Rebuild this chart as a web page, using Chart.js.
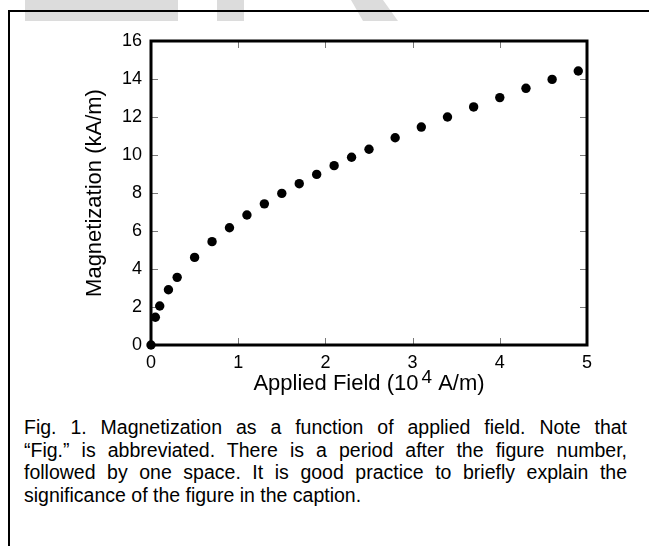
<!DOCTYPE html>
<html><head><meta charset="utf-8">
<script src="https://cdn.jsdelivr.net/npm/chart.js"></script>
<style>
html,body{margin:0;padding:0;background:#fff;width:649px;height:546px;overflow:hidden;position:relative;font-family:"Liberation Sans",Arial,sans-serif;}
.wm{position:absolute;background:#dcdcdc;top:0;height:21px;}
#frameTop{position:absolute;left:8px;top:10px;right:0;height:2px;background:#000;}
#frameLeft{position:absolute;left:8px;top:10px;width:2px;bottom:0;background:#000;}
#chart{position:absolute;left:0;top:0;}
#caption{position:absolute;left:24px;top:416px;width:603px;font-size:19.5px;line-height:22.5px;color:#000;}
#caption .j{text-align:justify;text-align-last:justify;}
</style></head>
<body>
<div class="wm" style="left:25px;width:153px;"></div>
<div class="wm" style="left:217px;width:27px;"></div>
<div class="wm" style="left:351px;width:47px;clip-path:polygon(0 0,32px 0,47px 100%,12px 100%);"></div>
<div id="frameTop"></div>
<div id="frameLeft"></div>
<canvas id="chart" width="649" height="400"></canvas>
<div id="caption">
<div class="j">Fig. 1. Magnetization as a function of applied field. Note that</div>
<div class="j">“Fig.” is abbreviated. There is a period after the figure number,</div>
<div class="j">followed by one space. It is good practice to briefly explain the</div>
<div>significance of the figure in the caption.</div>
</div>
<script>
const fieldValues = [0, 0.05, 0.1, 0.2, 0.3, 0.5, 0.7, 0.9, 1.1, 1.3, 1.5, 1.7, 1.9, 2.1, 2.3, 2.5, 2.8, 3.1, 3.4, 3.7, 4.0, 4.3, 4.6, 4.9];
const magnetization = [0, 1.46, 2.05, 2.91, 3.56, 4.61, 5.44, 6.17, 6.84, 7.43, 7.98, 8.49, 8.98, 9.44, 9.88, 10.3, 10.91, 11.47, 12.0, 12.53, 13.02, 13.51, 13.98, 14.42];
const xTickValues = [0, 1, 2, 3, 4, 5];
const yTickValues = [0, 2, 4, 6, 8, 10, 12, 14, 16];
const xTitleParts = ["Applied Field (10", "4", " A/m)"];
const yTitle = "Magnetization (kA/m)";

const FONT = '"Liberation Sans", Arial, sans-serif';
const points = fieldValues.map((x, i) => ({x: x, y: magnetization[i]}));

const framePlugin = {
  id: 'frame',
  beforeDatasetsDraw(chart) {
    const ctx = chart.ctx, a = chart.chartArea;
    const xs = chart.scales.x, ys = chart.scales.y;
    ctx.save();
    ctx.strokeStyle = '#7a7a7a';
    ctx.lineWidth = 1;
    const L = 7;
    xTickValues.forEach(v => {
      if (v <= xs.min || v >= xs.max) return;
      const px = Math.round(xs.getPixelForValue(v)) + 0.5;
      ctx.beginPath(); ctx.moveTo(px, a.bottom); ctx.lineTo(px, a.bottom - L); ctx.stroke();
      ctx.beginPath(); ctx.moveTo(px, a.top); ctx.lineTo(px, a.top + L); ctx.stroke();
    });
    yTickValues.forEach(v => {
      if (v <= ys.min || v >= ys.max) return;
      const py = Math.round(ys.getPixelForValue(v)) + 0.5;
      ctx.beginPath(); ctx.moveTo(a.left, py); ctx.lineTo(a.left + L, py); ctx.stroke();
      ctx.beginPath(); ctx.moveTo(a.right, py); ctx.lineTo(a.right - L, py); ctx.stroke();
    });
    ctx.strokeStyle = '#000';
    ctx.lineWidth = 3;
    ctx.strokeRect(a.left, a.top, a.right - a.left, a.bottom - a.top);
    ctx.restore();
  },
  afterDraw(chart) {
    const ctx = chart.ctx, a = chart.chartArea;
    ctx.save();
    ctx.fillStyle = '#000';
    ctx.font = '22px ' + FONT;
    ctx.textAlign = 'center';
    ctx.textBaseline = 'middle';
    ctx.translate(95, (a.top + a.bottom) / 2);
    ctx.rotate(-Math.PI / 2);
    ctx.fillText(yTitle, 0, 0);
    ctx.restore();
    ctx.save();
    ctx.fillStyle = '#000';
    ctx.textBaseline = 'alphabetic';
    ctx.textAlign = 'left';
    const mainFont = '22px ' + FONT, supFont = '19px ' + FONT;
    ctx.font = mainFont; const w1 = ctx.measureText(xTitleParts[0]).width;
    ctx.font = supFont; const w2 = ctx.measureText(xTitleParts[1]).width;
    ctx.font = mainFont; const w3 = ctx.measureText(xTitleParts[2]).width;
    const gap = 3;
    const total = w1 + gap + w2 + w3;
    let x = (a.left + a.right) / 2 - total / 2;
    const base = 390;
    ctx.font = mainFont; ctx.fillText(xTitleParts[0], x, base); x += w1 + gap;
    ctx.font = supFont; ctx.fillText(xTitleParts[1], x, base - 7); x += w2;
    ctx.font = mainFont; ctx.fillText(xTitleParts[2], x, base);
    ctx.restore();
  }
};

new Chart(document.getElementById('chart'), {
  type: 'scatter',
  data: {
    datasets: [{
      data: points,
      backgroundColor: '#000',
      borderColor: '#000',
      borderWidth: 0,
      pointRadius: 4.7,
      pointHoverRadius: 4.7,
      showLine: false,
      clip: false
    }]
  },
  options: {
    responsive: false,
    animation: false,
    devicePixelRatio: 1,
    layout: {padding: {top: 41, right: 62, left: 0, bottom: 0}},
    plugins: {legend: {display: false}, tooltip: {enabled: false}},
    scales: {
      x: {
        type: 'linear', min: 0, max: 5,
        afterBuildTicks(s) { s.ticks = xTickValues.map(v => ({value: v})); },
        afterFit(s) { s.height = 55; },
        grid: {display: false, drawTicks: false}, border: {display: false},
        ticks: {font: {size: 18, family: FONT}, color: '#000', padding: 7, maxRotation: 0}
      },
      y: {
        type: 'linear', min: 0, max: 16,
        afterBuildTicks(s) { s.ticks = yTickValues.map(v => ({value: v})); },
        afterFit(s) { s.width = 151; },
        grid: {display: false, drawTicks: false}, border: {display: false},
        ticks: {font: {size: 18, family: FONT}, color: '#000', padding: 9}
      }
    }
  },
  plugins: [framePlugin]
});
</script>
</body></html>
